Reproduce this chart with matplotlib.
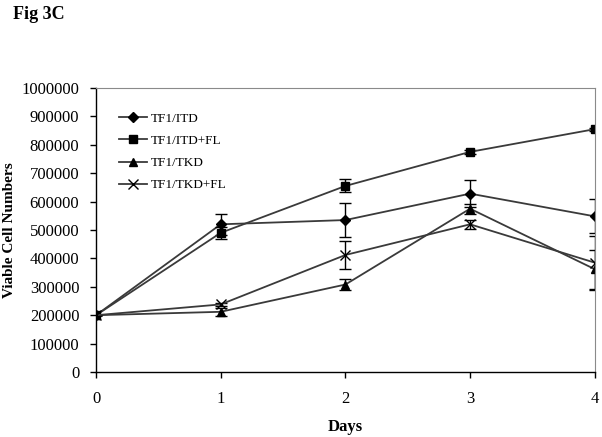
import numpy as np
import matplotlib.pyplot as plt

days = [0, 1, 2, 3, 4]

itd = [200000, 520000, 535000, 628000, 548000]
itd_err = [0, 38000, 60000, 48000, 60000]

itd_fl = [200000, 490000, 655000, 775000, 855000]
itd_fl_err = [0, 20000, 23000, 8000, 5000]

tkd = [200000, 212000, 308000, 575000, 362000]
tkd_err = [0, 15000, 20000, 18000, 68000]

tkd_fl = [200000, 238000, 412000, 520000, 385000]
tkd_fl_err = [0, 6000, 48000, 15000, 95000]

series = [
    ('TF1/ITD', itd, itd_err, 'D', 5),
    ('TF1/ITD+FL', itd_fl, itd_fl_err, 's', 6),
    ('TF1/TKD', tkd, tkd_err, '^', 6),
    ('TF1/TKD+FL', tkd_fl, tkd_fl_err, 'x', 7),
]

plt.rcParams['font.family'] = ['Liberation Serif', 'DejaVu Serif']

fig = plt.figure(figsize=(6.02, 4.37), dpi=100)
ax = fig.add_axes([0.1595, 0.1487, 0.8285, 0.65])

for label, vals, err, mk, ms in series:
    # error bars drawn separately so the legend shows only line + marker
    ax.errorbar(days, vals, yerr=err, fmt='none', ecolor='black',
                elinewidth=1.0, capsize=4, capthick=1.0)
    ax.plot(days, vals, color='#3a3a3a', linewidth=1.3, marker=mk,
            markersize=ms, markerfacecolor='black', markeredgecolor='black',
            markeredgewidth=1.0, label=label)

ax.set_xlim(0, 4)
ax.set_ylim(0, 1000000)
ax.set_xticks(days)
ax.set_yticks(np.arange(0, 1000001, 100000))
ax.set_yticklabels([str(v) for v in range(0, 1000001, 100000)])
ax.tick_params(direction='out', length=4, labelsize=12, width=1.0, colors='black')
ax.tick_params(axis='y', pad=8)
ax.tick_params(axis='x', pad=10)

for side in ['top', 'right']:
    ax.spines[side].set_color('#8a8a8a')
for side in ['left', 'bottom']:
    ax.spines[side].set_color('black')
    ax.spines[side].set_linewidth(1.0)

ax.set_xlabel('Days', fontsize=12, fontweight='bold', labelpad=8)
ax.set_ylabel('Viable Cell Numbers', fontsize=11, fontweight='bold', labelpad=4)

ax.legend(loc='upper left', bbox_to_anchor=(0.022, 0.955), frameon=False,
          fontsize=9.5, handlelength=2.1, labelspacing=0.75,
          handletextpad=0.3)

fig.text(0.022, 0.957, 'Fig 3C', fontsize=13, fontweight='bold')

fig.savefig('out.png', dpi=100)
